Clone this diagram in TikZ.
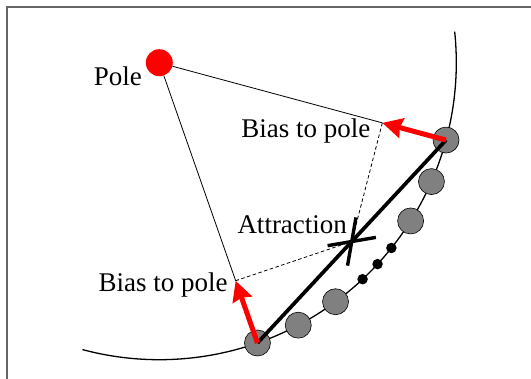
\documentclass[tikz,border=0pt]{standalone}
\usepackage{fontspec}
\setmainfont{Liberation Serif}
\usetikzlibrary{calc,arrows.meta}
\tikzset{
  frameline/.style={line width=1.3pt, draw=black!60},
  bigarc/.style={line width=1.3pt},
  bead/.style={circle, draw=black, line width=0.6pt, fill=gray, minimum size=26pt, inner sep=0pt},
  smallbead/.style={circle, fill=black, minimum size=10.5pt, inner sep=0pt},
  polenode/.style={circle, fill=red, minimum size=27pt, inner sep=0pt},
  chord/.style={line width=3.7pt},
  biasarrow/.style={draw=red, line width=5pt, -{Stealth[length=20pt,width=20pt,inset=2pt]}},
  thinline/.style={line width=0.8pt},
  dashline/.style={line width=0.8pt, dash pattern=on 3.5pt off 2.5pt},
  crossline/.style={line width=3.4pt},
  lbl/.style={inner sep=0pt, anchor=base west, font=\fontsize{27}{30}\selectfont}
}
\begin{document}
\begin{tikzpicture}[x=1pt,y=-1pt]
\useasboundingbox (0,0) rectangle (531,379);
\draw[frameline] (7,379) -- (7,7) -- (531,7);
\coordinate (pc) at (159.3,62.7);
% big circle arc around the pole
\draw[bigarc] ($(pc)+(105:297)$) arc[start angle=105, end angle=-6, radius=297];
% beads
\node[bead] (g1) at ($(pc)+(70.7:297)$) {};
\node[bead] (g2) at ($(pc)+(62.1:297)$) {};
\node[bead] (g3) at ($(pc)+(53.6:297)$) {};
\node[smallbead] (d1) at ($(pc)+(46.8:297)$) {};
\node[smallbead] (d2) at ($(pc)+(42.7:297)$) {};
\node[smallbead] (d3) at ($(pc)+(38.6:297)$) {};
\node[bead] (g5) at ($(pc)+(32.2:297)$) {};
\node[bead] (g6) at ($(pc)+(23.6:297)$) {};
\node[bead] (g7) at ($(pc)+(15.1:297)$) {};
% pole
\node[polenode] (pole) at (pc) {};
% arrow tips and attraction point
\coordinate (t1) at ($(g1.center)!66pt!(pc)$);
\coordinate (t7) at ($(g7.center)!66pt!(pc)$);
\coordinate (xc) at ($(g1.center)!0.5!(g7.center)$);
% thin lines from pole
\draw[thinline] (pole) -- (t7);
\draw[thinline] (pole) -- (t1);
% dashed lines
\draw[dashline] (t7) -- (xc);
\draw[dashline] (t1) -- (xc);
% chord
\draw[chord] (g1.center) -- (g7.center);
% cross
\draw[crossline] ($(xc)+(170.3:24.5)$) -- ($(xc)+(-9.7:24.5)$);
\draw[crossline] ($(xc)+(-80.1:24.5)$) -- ($(xc)+(99.9:24.5)$);
% red arrows
\draw[biasarrow] (g1.center) -- (t1);
\draw[biasarrow] (g7.center) -- (t7);
% labels
\node[lbl] (lpole) at (93.6,85.8) {Pole};
\node[lbl] (lbias1) at (241.2,137.3) {Bias to pole};
\node[lbl] (lattr) at (237.3,233.3) {Attraction};
\node[lbl] (lbias2) at (98.5,291.7) {Bias to pole};
\end{tikzpicture}
\end{document}
